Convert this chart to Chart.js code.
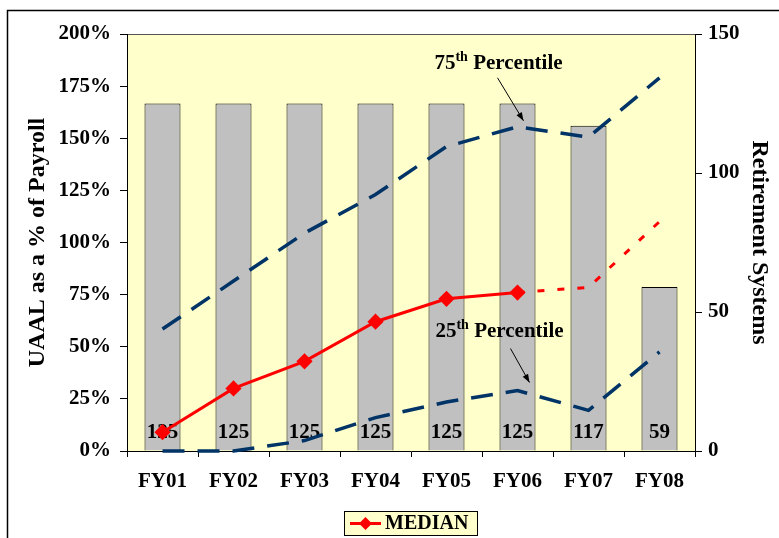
<!DOCTYPE html>
<html>
<head>
<meta charset="utf-8">
<script src="https://cdn.jsdelivr.net/npm/chart.js@4/dist/chart.umd.min.js"></script>
<style>
  html, body { margin: 0; padding: 0; background: #fff; }
  #wrap { width: 779px; height: 538px; }
</style>
</head>
<body>
<div id="wrap"><canvas id="uaal-chart" width="779" height="538"></canvas></div>
<script>
  'use strict';

  // data
  const categories = ['FY01', 'FY02', 'FY03', 'FY04', 'FY05', 'FY06', 'FY07', 'FY08'];
  const systemCounts = [125, 125, 125, 125, 125, 125, 117, 59];
  const medianActual = [9, 30, 43, 62, 73, 76, null, null];
  const medianProjected = [null, null, null, null, null, 76, 78.5, 110];
  const pct75 = [58.5, 81.5, 104.5, 123, 146, 155.5, 150.5, 179];
  const pct25 = [0, 0, 5, 16, 23.5, 29, 19.5, 47.5];

  const serif = "'Liberation Serif', 'Times New Roman', serif";
  const navy = '#003366';
  const red = '#FF0000';

  Chart.defaults.font.family = serif;
  Chart.defaults.font.weight = 'bold';
  Chart.defaults.font.size = 21;
  Chart.defaults.color = '#000';

  // background, frame, bar labels, annotations, legend
  const decor = {
    id: 'decor',
    beforeDraw(chart) {
      const c = chart.ctx, a = chart.chartArea;
      c.save();
      c.fillStyle = '#fff';
      c.fillRect(0, 0, chart.width, chart.height);
      c.strokeStyle = '#000';
      c.lineWidth = 1.5;
      c.strokeRect(7.5, 10.5, chart.width + 20, chart.height + 20);
      c.fillStyle = '#FFFFCC';
      c.fillRect(a.left, a.top, a.right - a.left, a.bottom - a.top);
      c.strokeStyle = '#555';
      c.lineWidth = 1;
      c.beginPath();
      c.moveTo(a.left, a.top + 0.5);
      c.lineTo(a.right, a.top + 0.5);
      c.stroke();
      c.restore();
    },
    afterDatasetDraw(chart, args) {
      if (chart.data.datasets[args.index].type !== 'bar') return;
      const c = chart.ctx, a = chart.chartArea;
      c.save();
      c.font = 'bold 21px ' + serif;
      c.fillStyle = '#000';
      c.textAlign = 'center';
      c.textBaseline = 'middle';
      args.meta.data.forEach((bar, i) => {
        c.fillText(String(systemCounts[i]), bar.x, a.bottom - 18);
      });
      c.restore();
    },
    afterDraw(chart) {
      const c = chart.ctx;
      const xs = chart.scales.x, ys = chart.scales.y;
      const px = xs.getPixelForValue(5);

      function label(cx, baseline, num) {
        c.font = 'bold 21px ' + serif;
        const w1 = c.measureText(num).width;
        const w3 = c.measureText(' Percentile').width;
        c.font = 'bold 14px ' + serif;
        const w2 = c.measureText('th').width;
        let x = cx - (w1 + w2 + w3) / 2;
        c.textAlign = 'left';
        c.textBaseline = 'alphabetic';
        c.font = 'bold 21px ' + serif;
        c.fillText(num, x, baseline);
        c.font = 'bold 14px ' + serif;
        c.fillText('th', x + w1, baseline - 8);
        c.font = 'bold 21px ' + serif;
        c.fillText(' Percentile', x + w1 + w2, baseline);
      }
      function arrow(x1, y1, x2, y2) {
        c.strokeStyle = '#000';
        c.lineWidth = 1;
        c.beginPath();
        c.moveTo(x1, y1);
        c.lineTo(x2, y2);
        c.stroke();
        const ang = Math.atan2(y2 - y1, x2 - x1);
        c.beginPath();
        c.moveTo(x2, y2);
        c.lineTo(x2 - 9 * Math.cos(ang - 0.35), y2 - 9 * Math.sin(ang - 0.35));
        c.lineTo(x2 - 9 * Math.cos(ang + 0.35), y2 - 9 * Math.sin(ang + 0.35));
        c.closePath();
        c.fillStyle = '#000';
        c.fill();
      }

      c.save();
      c.fillStyle = '#000';
      const y75 = ys.getPixelForValue(pct75[5]);
      label(px - 19, y75 - 58, '75');
      arrow(px - 20, y75 - 49, px + 6, y75 - 6);
      const y25 = ys.getPixelForValue(pct25[5]);
      label(px - 18, y25 - 54, '25');
      arrow(px - 7, y25 - 42, px + 12, y25 - 8);

      // legend
      const lx = 344, ly = 511;
      c.fillStyle = '#FFFFCC';
      c.fillRect(lx, ly, 133, 24);
      c.strokeStyle = '#000';
      c.lineWidth = 1;
      c.strokeRect(lx + 0.5, ly + 0.5, 133, 24);
      c.strokeStyle = red;
      c.lineWidth = 3;
      c.beginPath();
      c.moveTo(lx + 6, ly + 12.5);
      c.lineTo(lx + 37, ly + 12.5);
      c.stroke();
      c.fillStyle = red;
      c.beginPath();
      c.moveTo(lx + 21.5, ly + 6);
      c.lineTo(lx + 28, ly + 12.5);
      c.lineTo(lx + 21.5, ly + 19);
      c.lineTo(lx + 15, ly + 12.5);
      c.closePath();
      c.fill();
      c.fillStyle = '#000';
      c.font = 'bold 20px ' + serif;
      c.textAlign = 'left';
      c.textBaseline = 'middle';
      c.fillText(chart.data.datasets[0].label, lx + 41, ly + 13);
      c.restore();
    }
  };

  const ctx = document.getElementById('uaal-chart');

  new Chart(ctx, {
    data: {
      labels: categories,
      datasets: [{
        type: 'line',
        label: 'MEDIAN',
        data: medianActual,
        borderColor: red,
        backgroundColor: red,
        borderWidth: 3,
        pointStyle: 'rectRot',
        pointRadius: 6,
        pointHoverRadius: 6,
        tension: 0,
        yAxisID: 'y',
        order: 1
      },
      {
        type: 'line',
        label: 'Median (projected)',
        data: medianProjected,
        borderColor: red,
        borderWidth: 3,
        borderDash: [7, 13],
        pointRadius: 0,
        tension: 0,
        yAxisID: 'y',
        order: 2
      },
      {
        type: 'line',
        label: '75th Percentile',
        data: pct75,
        borderColor: navy,
        borderWidth: 3.5,
        borderDash: [22, 13],
        pointRadius: 0,
        tension: 0,
        yAxisID: 'y',
        order: 3
      },
      {
        type: 'line',
        label: '25th Percentile',
        data: pct25,
        borderColor: navy,
        borderWidth: 3.5,
        borderDash: [22, 13],
        pointRadius: 0,
        tension: 0,
        yAxisID: 'y',
        order: 4,
        clip: 4
      },
      {
        type: 'bar',
        label: 'Retirement Systems',
        data: systemCounts,
        backgroundColor: '#C0C0C0',
        borderColor: '#000',
        borderWidth: 1,
        barPercentage: 0.507,
        categoryPercentage: 1,
        yAxisID: 'y1',
        order: 10
      }]
    },
    options: {
      responsive: false,
      animation: false,
      layout: { padding: { top: 34, left: 0, right: 0, bottom: 0 } },
      scales: {
        x: {
          offset: true,
          grid: { offset: true, drawOnChartArea: false, drawTicks: true, tickLength: 6, color: '#000' },
          border: { display: true, color: '#000', width: 1 },
          ticks: { padding: 12, font: { size: 21, weight: 'bold' }, maxRotation: 0 },
          afterFit(scale) { scale.height = 87; }
        },
        y: {
          position: 'left',
          min: 0,
          max: 200,
          ticks: { stepSize: 25, padding: 9, callback: v => v + '%', font: { size: 21, weight: 'bold' } },
          grid: { drawOnChartArea: false, drawTicks: true, tickLength: 7, color: '#000' },
          border: { display: true, color: '#000', width: 1 },
          title: { display: true, text: 'UAAL as a % of Payroll', font: { size: 24, weight: 'bold' }, padding: { top: 23, bottom: 0 } },
          afterFit(scale) { scale.width = 127; }
        },
        y1: {
          position: 'right',
          min: 0,
          max: 150,
          ticks: { stepSize: 50, padding: 6, font: { size: 21, weight: 'bold' } },
          grid: { drawOnChartArea: false, drawTicks: true, tickLength: 7, color: '#000' },
          border: { display: true, color: '#000', width: 1 },
          title: { display: true, text: 'Retirement Systems', font: { size: 24, weight: 'bold' }, padding: { top: 5, bottom: 0 } },
          afterFit(scale) { scale.width = 84; }
        }
      },
      plugins: {
        legend: { display: false },
        tooltip: { enabled: false }
      }
    },
    plugins: [decor]
  });
</script>
</body>
</html>
